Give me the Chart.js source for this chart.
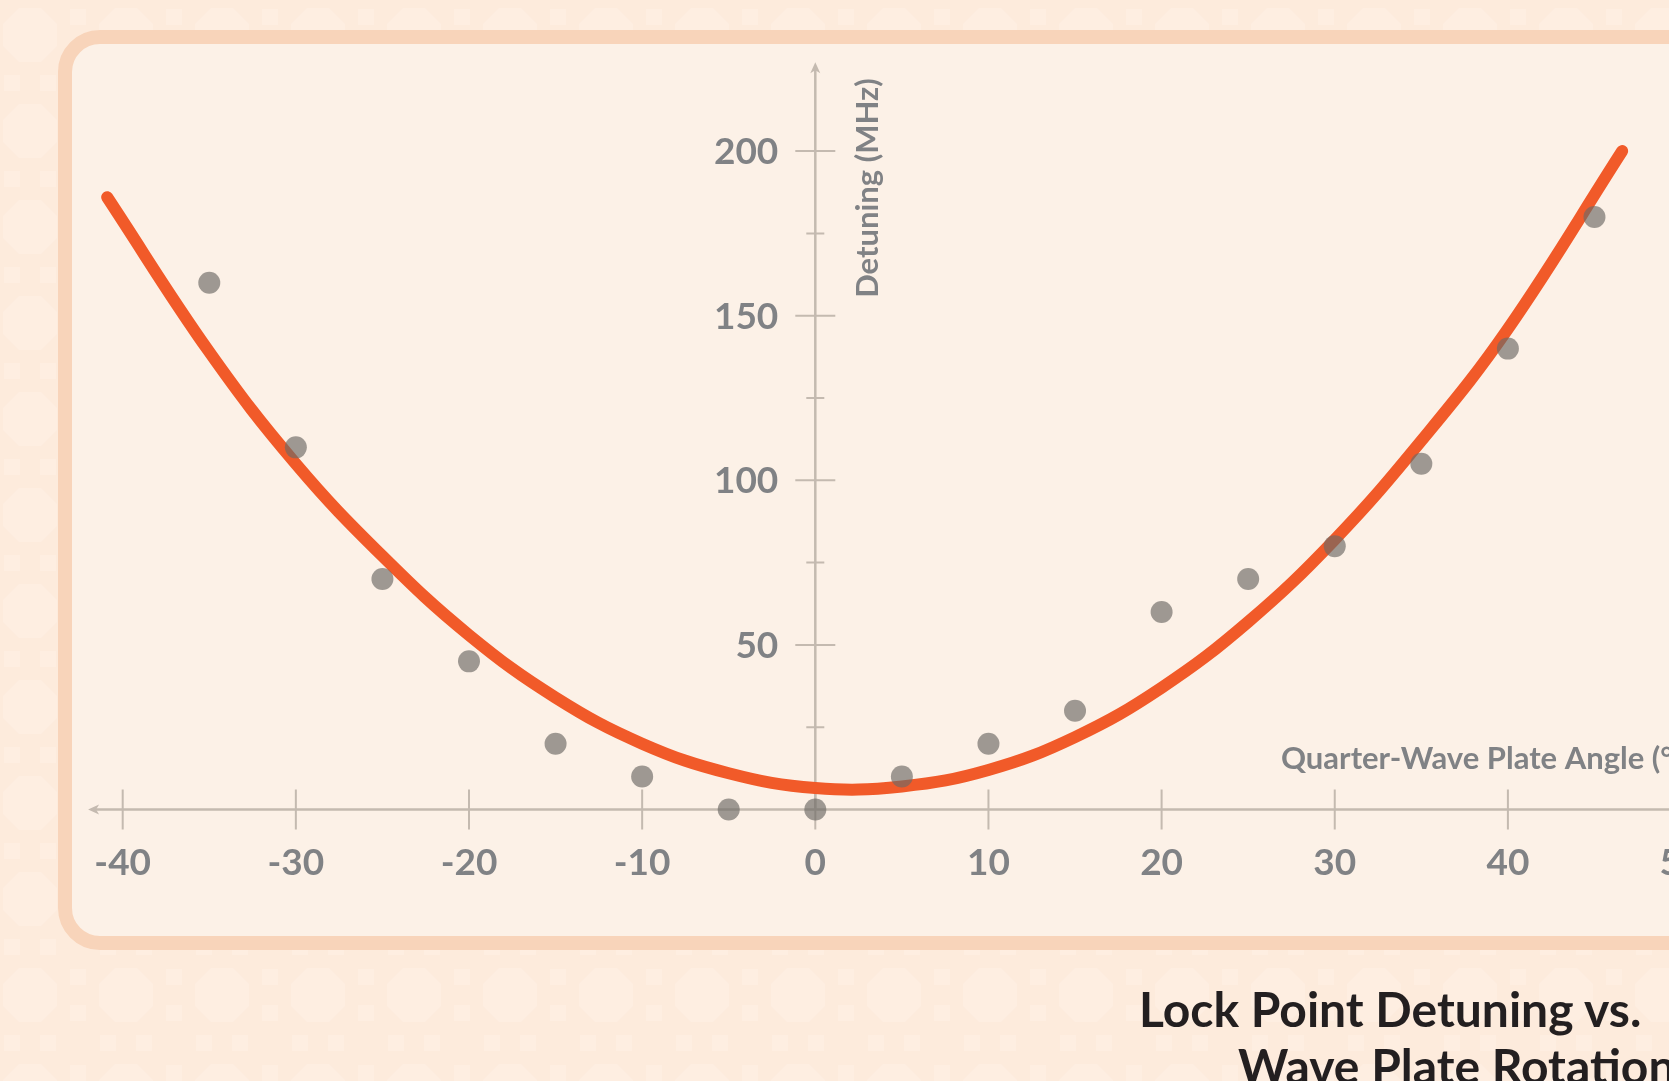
<!DOCTYPE html>
<html>
<head>
<meta charset="utf-8">
<script src="https://cdn.jsdelivr.net/npm/chart.js@4.4.1/dist/chart.umd.min.js"></script>
<style>
  html, body { margin: 0; padding: 0; width: 1669px; height: 1081px; overflow: hidden; }
  body {
    position: relative;
    background-color: #FDEBDC;
    background-image: url("data:image/svg+xml,%3Csvg xmlns='http://www.w3.org/2000/svg' width='96' height='96'%3E%3Cg fill='%23FEEEE1'%3E%3Cpolygon points='37,21 59,21 75,37 75,59 59,75 37,75 21,59 21,37'/%3E%3Crect x='-8' y='22' width='16' height='16'/%3E%3Crect x='88' y='22' width='16' height='16'/%3E%3Crect x='-8' y='58' width='16' height='16'/%3E%3Crect x='88' y='58' width='16' height='16'/%3E%3Crect x='22' y='-8' width='16' height='16'/%3E%3Crect x='22' y='88' width='16' height='16'/%3E%3Crect x='58' y='-8' width='16' height='16'/%3E%3Crect x='58' y='88' width='16' height='16'/%3E%3C/g%3E%3C/svg%3E");
    background-position: -18px -13px;
    font-family: Lato, 'Open Sans', sans-serif;
  }
  .card {
    position: absolute; left: 58px; top: 30px; width: 1800px; height: 920px;
    box-sizing: border-box; border: 14px solid #F8D4BA; border-radius: 42px;
    background: #FCF1E7;
  }
  #chart { position: absolute; left: 0; top: 0; }
  .title {
    position: absolute; font-family: Lato, sans-serif; font-weight: 700; font-size: 48px;
    line-height: 48px; color: #231F20; white-space: nowrap;
  }
</style>
</head>
<body>
<div class="card"></div>
<canvas id="chart" width="1760" height="1081"></canvas>
<div class="title" style="left:1139px; top:985px;">Lock Point Detuning vs.</div>
<div class="title" style="left:1238px; top:1042px;">Wave Plate Rotation</div>
<script>
// measured points
const angles = [-35, -30, -25, -20, -15, -10, -5, 0, 5, 10, 15, 20, 25, 30, 35, 40, 45];
const detuning = [160, 110, 70, 45, 20, 10, 0, 0, 10, 20, 30, 60, 70, 80, 105, 140, 180];

// fitted curve
const fitAngles = [-40.9, -35, -30, -25, -20, -15, -10, -5, 0, 5, 10, 15, 20, 25, 30, 35, 40, 46.6];
const fitDetuning = [186, 139, 105, 77, 53, 34, 20, 11, 6.5, 7, 12, 22, 37, 57, 82, 112, 146, 200];

const xTicks = [-40, -30, -20, -10, 0, 10, 20, 30, 40, 50];
const yTicks = [25, 50, 75, 100, 125, 150, 175, 200];
const yLabelTicks = [50, 100, 150, 200];
const xTitle = 'Quarter-Wave Plate Angle (°)';
const yTitle = 'Detuning (MHz)';

const axisColor = '#C4BAB0';
const labelColor = '#808285';

const crossAxes = {
  id: 'crossAxes',
  beforeDatasetsDraw(chart) {
    const ctx = chart.ctx;
    const x = chart.scales.x, y = chart.scales.y;
    const x0 = x.getPixelForValue(0);
    const y0 = y.getPixelForValue(0);
    ctx.save();
    ctx.strokeStyle = axisColor;
    ctx.fillStyle = axisColor;

    // axis lines
    ctx.lineWidth = 2.5;
    ctx.beginPath();
    ctx.moveTo(x.left + 4, y0);
    ctx.lineTo(chart.width, y0);
    ctx.moveTo(x0, y0);
    ctx.lineTo(x0, y.top + 4);
    ctx.stroke();

    // arrow heads
    ctx.beginPath();
    ctx.moveTo(x.left, y0);
    ctx.lineTo(x.left + 11, y0 - 5);
    ctx.lineTo(x.left + 8, y0);
    ctx.lineTo(x.left + 11, y0 + 5);
    ctx.closePath();
    ctx.fill();
    ctx.beginPath();
    ctx.moveTo(x0, y.top);
    ctx.lineTo(x0 - 5, y.top + 11);
    ctx.lineTo(x0, y.top + 8);
    ctx.lineTo(x0 + 5, y.top + 11);
    ctx.closePath();
    ctx.fill();

    // tick marks
    ctx.lineWidth = 2;
    ctx.beginPath();
    x.ticks.forEach(t => {
      const px = x.getPixelForValue(t.value);
      ctx.moveTo(px, y0 - 20);
      ctx.lineTo(px, y0 + 20);
    });
    y.ticks.forEach(t => {
      const py = y.getPixelForValue(t.value);
      const h = yLabelTicks.includes(t.value) ? 20 : 9;
      ctx.moveTo(x0 - h, py);
      ctx.lineTo(x0 + h, py);
    });
    ctx.stroke();

    // tick labels
    ctx.fillStyle = labelColor;
    ctx.font = '700 37px Lato';
    ctx.textBaseline = 'alphabetic';
    ctx.textAlign = 'center';
    x.ticks.forEach(t => {
      ctx.fillText(String(t.value), x.getPixelForValue(t.value), y0 + 65);
    });
    ctx.textAlign = 'right';
    y.ticks.forEach(t => {
      if (!yLabelTicks.includes(t.value)) return;
      ctx.fillText(String(t.value), x0 - 37, y.getPixelForValue(t.value) + 13);
    });

    // axis titles
    ctx.font = '700 31px Lato';
    ctx.textAlign = 'left';
    ctx.fillText(xTitle, 1281, 769);
    ctx.translate(878, 188);
    ctx.rotate(-Math.PI / 2);
    ctx.textAlign = 'center';
    ctx.font = '700 31px Lato';
    ctx.fillText(yTitle, 0, 0);
    ctx.restore();
  }
};

new Chart(document.getElementById('chart'), {
  type: 'scatter',
  data: {
    datasets: [
      {
        label: 'Measured',
        data: angles.map((a, i) => ({ x: a, y: detuning[i] })),
        pointRadius: 11,
        pointHoverRadius: 11,
        backgroundColor: 'rgba(110, 106, 102, 0.66)',
        borderWidth: 0,
        clip: false,
        order: 0
      },
      {
        label: 'Fit',
        data: fitAngles.map((a, i) => ({ x: a, y: fitDetuning[i] })),
        showLine: true,
        pointRadius: 0,
        borderColor: '#F15A29',
        borderWidth: 12,
        borderCapStyle: 'round',
        borderJoinStyle: 'round',
        tension: 0.4,
        fill: false,
        clip: false,
        order: 1
      }
    ]
  },
  options: {
    responsive: false,
    animation: false,
    events: [],
    layout: { padding: { left: 88.07, right: 78.95, top: 62.2, bottom: 271.5 } },
    plugins: { legend: { display: false }, tooltip: { enabled: false } },
    scales: {
      x: {
        type: 'linear', min: -42, max: 50, display: false,
        afterBuildTicks: axis => { axis.ticks = xTicks.map(v => ({ value: v })); }
      },
      y: {
        type: 'linear', min: 0, max: 227, display: false,
        afterBuildTicks: axis => { axis.ticks = yTicks.map(v => ({ value: v })); }
      }
    }
  },
  plugins: [crossAxes]
});
</script>
</body>
</html>
